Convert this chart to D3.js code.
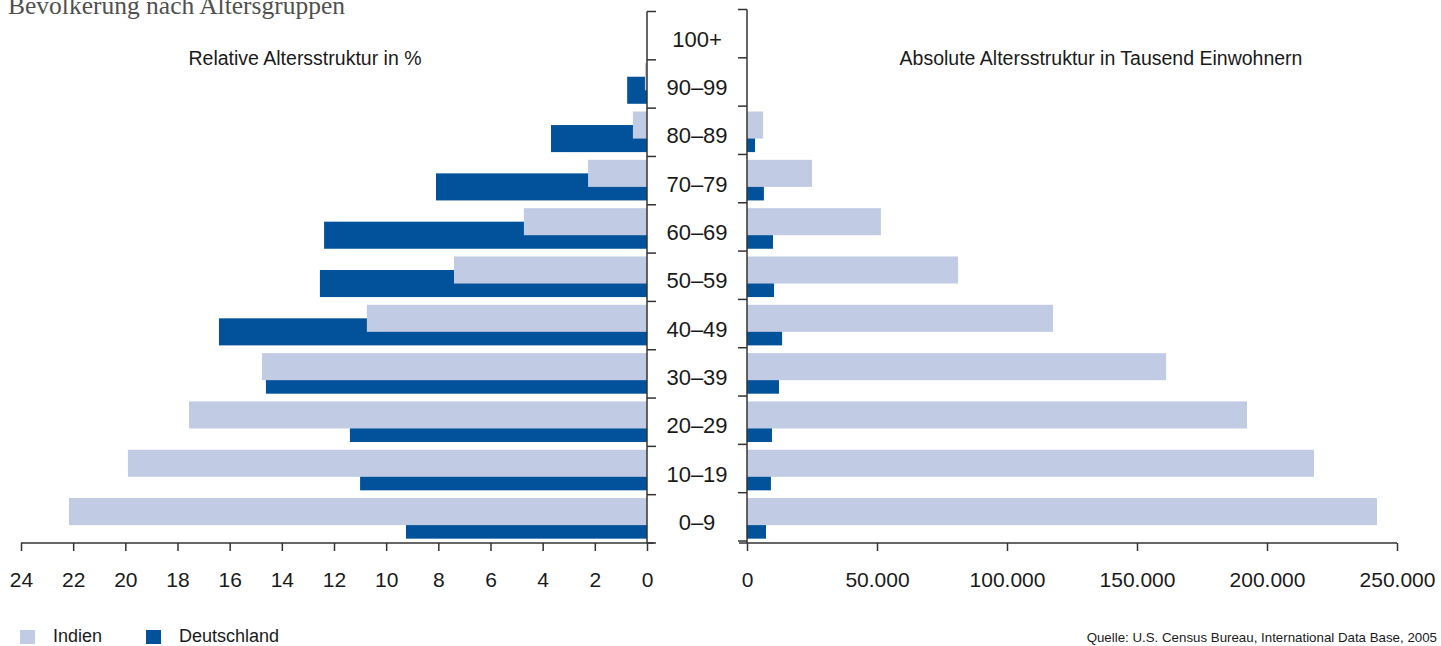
<!DOCTYPE html>
<html>
<head>
<meta charset="utf-8">
<script src="https://cdn.jsdelivr.net/npm/d3@7"></script>
<style>
  body { margin: 0; background: #fff; }
  text { font-family: "Liberation Sans", Arial, sans-serif; fill: #1a1a1a; }
</style>
</head>
<body>
<div id="viz"></div>
<script>
// age groups, top to bottom
const ageGroups = ["100+", "90–99", "80–89", "70–79", "60–69", "50–59", "40–49", "30–39", "20–29", "10–19", "0–9"]

// relative structure in %
const indienPct = [0, 0.08, 0.54, 2.26, 4.72, 7.40, 10.74, 14.76, 17.56, 19.90, 22.16]
const deutschPct = [0, 0.76, 3.68, 8.09, 12.38, 12.54, 16.41, 14.61, 11.39, 11.0, 9.24]

// absolute structure in thousand inhabitants
const indienAbs = [0, 0, 6200, 25000, 51500, 81200, 117700, 161200, 192300, 218100, 242300]
const deutschAbs = [0, 0, 3100, 6500, 10000, 10400, 13500, 12300, 9600, 9200, 7300]

const pctTicks = [0, 2, 4, 6, 8, 10, 12, 14, 16, 18, 20, 22, 24]
const absTicks = [0, 50000, 100000, 150000, 200000, 250000]

const seriesNames = ["Indien", "Deutschland"]
const colors = ["#c1cbe3", "#01529a"]

const width = 1441
const height = 646

const svg = d3.select("#viz").append("svg")
    .attr("width", width)
    .attr("height", height)

// scales
const y = d3.scaleBand().domain(ageGroups).range([11.5, 543]).padding(0)
const xL = d3.scaleLinear().domain([0, 24]).range([647, 21])
const xR = d3.scaleLinear().domain([0, 250000]).range([747, 1397])

const bw = y.bandwidth()
const lightOff = 0.07 * bw, darkOff = 0.35 * bw, barH = 0.56 * bw

// title (cut at the top edge, like the original)
svg.append("text")
    .attr("x", 8).attr("y", 14)
    .style("font-family", "'Liberation Serif', 'DejaVu Serif', serif")
    .style("font-size", "25.5px")
    .style("fill", "#505050")
    .text("Bevölkerung nach Altersgruppen")

svg.append("text")
    .attr("x", 305).attr("y", 65)
    .attr("text-anchor", "middle")
    .style("font-size", "19.5px")
    .text("Relative Altersstruktur in %")

svg.append("text")
    .attr("x", 1101).attr("y", 65)
    .attr("text-anchor", "middle")
    .style("font-size", "19.5px")
    .text("Absolute Altersstruktur in Tausend Einwohnern")

// left bars (Deutschland behind, Indien on top)
const left = svg.append("g")
left.selectAll(".dl").data(ageGroups).enter().append("rect")
    .attr("x", (d, i) => xL(deutschPct[i]))
    .attr("y", d => y(d) + darkOff)
    .attr("width", (d, i) => xL(0) - xL(deutschPct[i]))
    .attr("height", barH)
    .attr("fill", colors[1])
left.selectAll(".il").data(ageGroups).enter().append("rect")
    .attr("x", (d, i) => xL(indienPct[i]))
    .attr("y", d => y(d) + lightOff)
    .attr("width", (d, i) => xL(0) - xL(indienPct[i]))
    .attr("height", barH)
    .attr("fill", colors[0])

// right bars
const right = svg.append("g")
right.selectAll(".dr").data(ageGroups).enter().append("rect")
    .attr("x", xR(0))
    .attr("y", d => y(d) + darkOff)
    .attr("width", (d, i) => xR(deutschAbs[i]) - xR(0))
    .attr("height", barH)
    .attr("fill", colors[1])
right.selectAll(".ir").data(ageGroups).enter().append("rect")
    .attr("x", xR(0))
    .attr("y", d => y(d) + lightOff)
    .attr("width", (d, i) => xR(indienAbs[i]) - xR(0))
    .attr("height", barH)
    .attr("fill", colors[0])

// bottom axes
const de = d3.formatLocale({ decimal: ",", thousands: ".", grouping: [3], currency: ["", "€"] })

const axL = svg.append("g")
    .attr("transform", `translate(0,${y.range()[1]})`)
    .call(d3.axisBottom(xL).tickValues(pctTicks).tickSizeInner(8).tickSizeOuter(0).tickPadding(21))
axL.select(".domain").attr("d", `M${xL(24)},0H${xL(0) + 7}`)

const axR = svg.append("g")
    .attr("transform", `translate(0,${y.range()[1]})`)
    .call(d3.axisBottom(xR).tickValues(absTicks).tickFormat(de.format(",")).tickSizeInner(8).tickSizeOuter(0).tickPadding(21))
axR.select(".domain").attr("d", `M${xR(0) - 8},0H${xR(250000)}`)

svg.selectAll(".tick text").style("font-size", "21px").style("font-family", "'Liberation Sans', Arial, sans-serif").attr("fill", "#1a1a1a")
svg.selectAll(".domain, .tick line").attr("stroke", "#333").attr("stroke-width", 1.5)

// vertical axes with band boundary ticks
const bounds = ageGroups.map(d => y(d)).concat([y.range()[1]])
svg.append("line").attr("x1", xL(0)).attr("x2", xL(0)).attr("y1", bounds[0]).attr("y2", y.range()[1])
    .attr("stroke", "#333").attr("stroke-width", 1.5)
svg.append("line").attr("x1", xR(0)).attr("x2", xR(0)).attr("y1", bounds[0] - 2).attr("y2", y.range()[1])
    .attr("stroke", "#333").attr("stroke-width", 1.5)
svg.selectAll(".bl").data(bounds).enter().append("line")
    .attr("x1", xL(0)).attr("x2", xL(0) + 9)
    .attr("y1", d => d).attr("y2", d => d)
    .attr("stroke", "#333").attr("stroke-width", 1.5)
svg.selectAll(".br").data(bounds).enter().append("line")
    .attr("x1", xR(0) - 9).attr("x2", xR(0))
    .attr("y1", d => d - 2).attr("y2", d => d - 2)
    .attr("stroke", "#333").attr("stroke-width", 1.5)

// age labels in the middle
svg.selectAll(".age").data(ageGroups).enter().append("text")
    .attr("x", (xL(0) + xR(0)) / 2)
    .attr("y", d => y(d) + bw / 2 + 11)
    .attr("text-anchor", "middle")
    .style("font-size", "22px")
    .text(d => d)

// legend
const legend = svg.append("g")
const legX = [20, 146]
seriesNames.forEach((n, i) => {
    legend.append("rect").attr("x", legX[i]).attr("y", 630).attr("width", 15).attr("height", 14).attr("fill", colors[i])
    legend.append("text").attr("x", legX[i] + 33).attr("y", 642).style("font-size", "18px").text(n)
})

// source
svg.append("text")
    .attr("x", 1437).attr("y", 642)
    .attr("text-anchor", "end")
    .style("font-size", "13.3px")
    .text("Quelle: U.S. Census Bureau, International Data Base, 2005")
</script>
</body>
</html>
